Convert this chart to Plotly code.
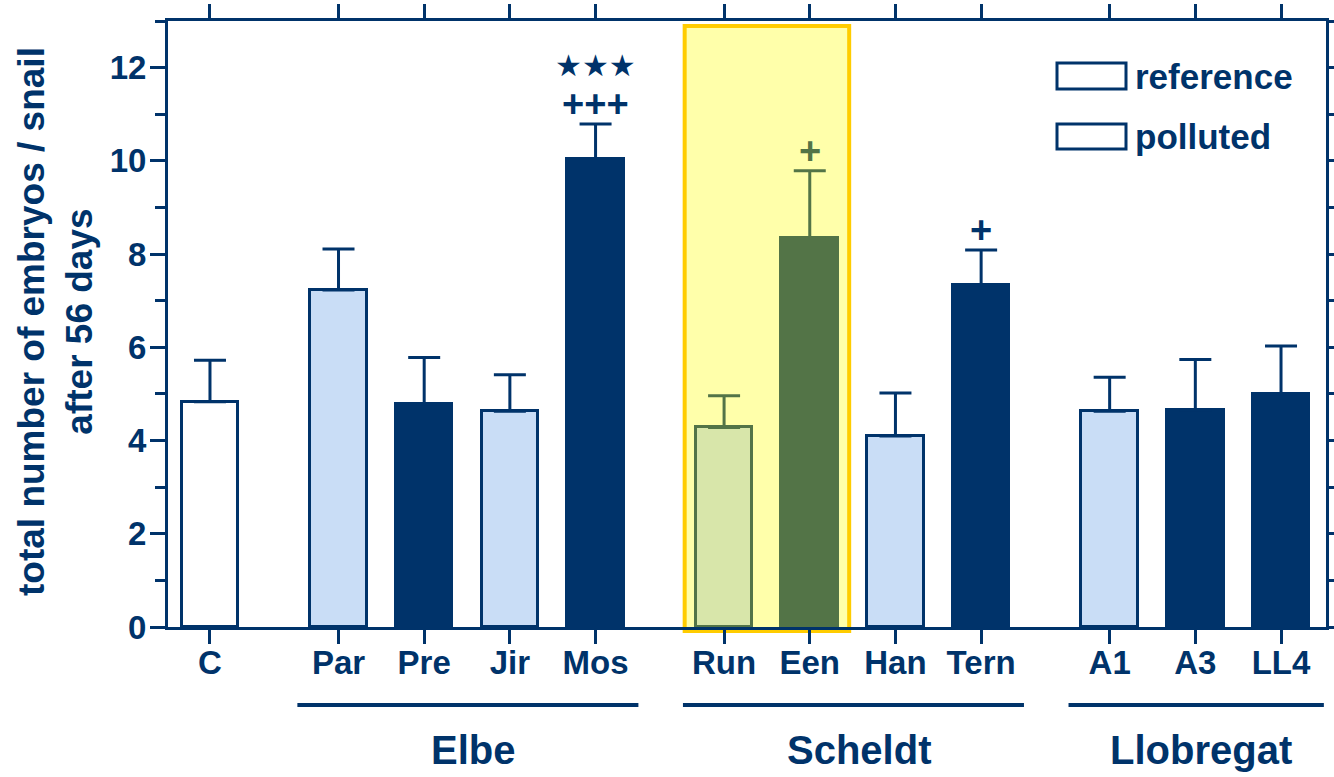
import plotly.graph_objects as go

# ---- data -------------------------------------------------------------
group_names = ["", "Elbe", "Scheldt", "Llobregat"]
group_sites = [
    ["C"],
    ["Par", "Pre", "Jir", "Mos"],
    ["Run", "Een", "Han", "Tern"],
    ["A1", "A3", "LL4"],
]
sites = ["C", "Par", "Pre", "Jir", "Mos", "Run", "Een", "Han", "Tern", "A1", "A3", "LL4"]
embryos_mean = [4.83, 7.23, 4.79, 4.63, 10.05, 4.28, 8.35, 4.10, 7.34, 4.63, 4.65, 5.00]
embryos_se = [0.89, 0.88, 0.99, 0.78, 0.74, 0.68, 1.44, 0.92, 0.75, 0.73, 1.09, 1.03]
site_status = ["control", "reference", "polluted", "reference", "polluted",
               "reference", "polluted", "reference", "polluted",
               "reference", "polluted", "polluted"]
highlighted_sites = ["Run", "Een"]
significance = {"Mos": ["+++", "★★★"], "Een": ["+"], "Tern": ["+"]}
y_ticks = [0, 2, 4, 6, 8, 10, 12]
legend_labels = ["reference", "polluted"]

# ---- styling ----------------------------------------------------------
NAVY = "#00336a"
LIGHT_BLUE = "#c9ddf6"
GREEN = "#537447"
LIGHT_GREEN = "#d8e6aa"
YELLOW = "#ffffaa"
GOLD = "#ffcc00"
FONT = "Liberation Sans, Arial, sans-serif"

W, H = 1334, 777
ML, MR, MT, MB = 168, 8, 21, 150
PLOT_W = W - ML - MR
PLOT_H = H - MT - MB
X_RANGE = [-0.49, 13.025]
Y_RANGE = [0, 13]
BAR_W = 0.66


def px_to_paper_x(px):
    return (px - ML) / PLOT_W


def px_to_paper_y(py):
    return (H - MB - py) / PLOT_H


# x positions: one unit per site, half a unit extra between groups
positions = {}
pos = 0.0
for members in group_sites:
    for s in members:
        positions[s] = pos
        pos += 1
    pos += 0.5


def bar_style(site, status):
    if site in highlighted_sites:
        fill = LIGHT_GREEN if status == "reference" else GREEN
        return fill, GREEN
    if status == "control":
        return "white", NAVY
    if status == "reference":
        return LIGHT_BLUE, NAVY
    return NAVY, NAVY


fig = go.Figure()

# bars, one trace per fill/outline combination
styles = {}
for s, m, se, st in zip(sites, embryos_mean, embryos_se, site_status):
    key = bar_style(s, st)
    styles.setdefault(key, []).append((s, m, se))

for (fill, line), items in styles.items():
    fig.add_trace(go.Bar(
        x=[positions[s] for s, _, _ in items],
        y=[m for _, m, _ in items],
        width=BAR_W,
        marker=dict(color=fill, line=dict(color=line, width=3)),
        error_y=dict(type="data", symmetric=False,
                     array=[se for _, _, se in items],
                     arrayminus=[0] * len(items),
                     color=line, thickness=3, width=16),
        showlegend=False,
        hoverinfo="skip",
    ))

shapes = []
annotations = []

# highlighted sites box
hl = [positions[s] for s in highlighted_sites]
shapes.append(dict(
    type="rect", xref="x", yref="paper",
    x0=min(hl) - 0.46, x1=max(hl) + 0.46,
    y0=px_to_paper_y(631), y1=px_to_paper_y(26),
    fillcolor=YELLOW, line=dict(color=GOLD, width=4), layer="below",
))

# significance marks above error bars
for s, marks in significance.items():
    i = sites.index(s)
    top = embryos_mean[i] + embryos_se[i]
    color = GREEN if s in highlighted_sites else NAVY
    for k, txt in enumerate(marks):
        star = "★" in txt
        annotations.append(dict(
            x=positions[s], y=top, xref="x", yref="y",
            text=txt, showarrow=False,
            xanchor="center", yanchor="middle",
            yshift=20 + 39 * k,
            font=dict(family="DejaVu Sans" if star else FONT,
                      size=30 if star else 38,
                      color=color, weight="bold"),
        ))

# group brackets and names
for name, members in zip(group_names, group_sites):
    if not name:
        continue
    xs = [positions[s] for s in members]
    shapes.append(dict(
        type="line", xref="x", yref="paper",
        x0=min(xs) - 0.48, x1=max(xs) + 0.5,
        y0=px_to_paper_y(705), y1=px_to_paper_y(705),
        line=dict(color=NAVY, width=4),
    ))
    annotations.append(dict(
        x=sum(xs) / len(xs) + 0.07, y=px_to_paper_y(750), xref="x", yref="paper",
        text=name, showarrow=False, xanchor="center", yanchor="middle",
        font=dict(family=FONT, size=40, color=NAVY, weight="bold"),
    ))

# legend boxes
legend_rows = [(63, 89), (124, 149)]
for (top, bottom), label in zip(legend_rows, legend_labels):
    shapes.append(dict(
        type="rect", xref="paper", yref="paper",
        x0=px_to_paper_x(1057), x1=px_to_paper_x(1126),
        y0=px_to_paper_y(bottom), y1=px_to_paper_y(top),
        fillcolor="white", line=dict(color=NAVY, width=3),
    ))
    annotations.append(dict(
        x=px_to_paper_x(1133), y=px_to_paper_y((top + bottom) / 2),
        xref="paper", yref="paper", text=label, showarrow=False,
        xanchor="left", yanchor="middle",
        font=dict(family=FONT, size=35, color=NAVY, weight="bold"),
    ))

# y-axis title
annotations.append(dict(
    x=px_to_paper_x(55), y=px_to_paper_y(322), xref="paper", yref="paper",
    text="total number of embryos / snail<br>after 56 days",
    textangle=-90, showarrow=False, xanchor="center", yanchor="middle",
    font=dict(family=FONT, size=37, color=NAVY, weight="bold"),
))

fig.update_layout(
    width=W, height=H, autosize=False,
    margin=dict(l=ML, r=MR, t=MT, b=MB, pad=0),
    paper_bgcolor="white", plot_bgcolor="white",
    bargap=0, shapes=shapes, annotations=annotations,
    xaxis=dict(
        range=X_RANGE, tickmode="array", automargin=False,
        tickvals=[positions[s] for s in sites], ticktext=sites,
        ticks="outside", ticklen=14, tickwidth=3, tickcolor=NAVY,
        ticklabelstandoff=-10,
        showline=True, linewidth=3, linecolor=NAVY, mirror="ticks",
        showgrid=False, zeroline=False,
        tickfont=dict(family=FONT, size=33, color=NAVY, weight="bold"),
    ),
    yaxis=dict(
        range=Y_RANGE, tickmode="array", tickvals=y_ticks, automargin=False,
        ticks="outside", ticklen=15, tickwidth=3, tickcolor=NAVY,
        ticklabelstandoff=-3,
        minor=dict(tickmode="array", tickvals=[1, 3, 5, 7, 9, 11, 13],
                   ticks="outside", ticklen=10, tickwidth=3, tickcolor=NAVY),
        showline=True, linewidth=3, linecolor=NAVY, mirror="ticks",
        showgrid=False, zeroline=False,
        tickfont=dict(family=FONT, size=33, color=NAVY, weight="bold"),
    ),
)

fig.write_html("out.html")
